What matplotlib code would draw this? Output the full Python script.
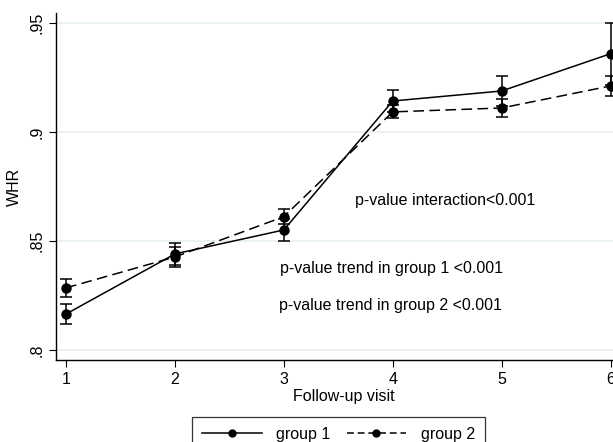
import numpy as np
import matplotlib
matplotlib.use('Agg')
import matplotlib.pyplot as plt
from matplotlib.ticker import FuncFormatter
from matplotlib.lines import Line2D

plt.rcParams['font.family'] = ['Liberation Sans', 'DejaVu Sans']

visits = [1, 2, 3, 4, 5, 6]
g1_mean = [0.8165, 0.8441, 0.8551, 0.9143, 0.9189, 0.9360]
g1_err = [0.0048, 0.0050, 0.0052, 0.0051, 0.0068, 0.0142]
g2_mean = [0.8285, 0.8427, 0.8612, 0.9093, 0.9111, 0.9212]
g2_err = [0.0040, 0.0045, 0.0035, 0.0030, 0.0041, 0.0048]
yticks = [0.80, 0.85, 0.90, 0.95]

FS = 11.5
W, H = 613, 442
fig = plt.figure(figsize=(W / 100, H / 100), dpi=100)
# axes placed in pixel terms; right side runs past the figure edge like the original
xmin, xmax = 0.908, 6.2
px_per_x = 108.9
left_px, bottom_px, top_px = 56, 360, 13
ax = fig.add_axes([left_px / W, 1 - bottom_px / H,
                   (xmax - xmin) * px_per_x / W, (bottom_px - top_px) / H])

ax.errorbar(visits, g1_mean, yerr=g1_err, color='black', lw=1.1, ls='-',
            marker='o', ms=6.5, capsize=4, capthick=1.1, elinewidth=1.1, zorder=3)
ax.errorbar(visits, g2_mean, yerr=g2_err, color='black', lw=1.1, ls=(0, (7, 3.5)),
            marker='o', ms=6.5, capsize=4, capthick=1.1, elinewidth=1.1, zorder=3)

ax.set_xlim(xmin, xmax)
ax.set_ylim(0.7954, 0.9547)
ax.set_xticks(visits)
ax.set_yticks(yticks)
ax.yaxis.set_major_formatter(FuncFormatter(lambda v, p: ('%g' % v).lstrip('0')))
for lab in ax.get_yticklabels():
    lab.set_rotation(90)
    lab.set_va('center')
ax.tick_params(labelsize=FS, direction='out', length=5, width=0.8)
ax.grid(axis='y', color='#e8f0f2', lw=1.3)
ax.set_axisbelow(True)
for s in ['top', 'right']:
    ax.spines[s].set_visible(False)
for s in ['left', 'bottom']:
    ax.spines[s].set_linewidth(1.0)

ax.set_xlabel('Follow-up visit', fontsize=FS, labelpad=1.5)
ax.set_ylabel('WHR', fontsize=FS, labelpad=5)

ax.text(4.48, 0.8686, 'p-value interaction<0.001', fontsize=FS, ha='center', va='center')
ax.text(3.99, 0.8376, 'p-value trend in group 1 <0.001', fontsize=FS, ha='center', va='center')
ax.text(3.98, 0.8202, 'p-value trend in group 2 <0.001', fontsize=FS, ha='center', va='center')

handles = [Line2D([], [], color='black', lw=1.1, ls='-', marker='o', ms=5),
           Line2D([], [], color='black', lw=1.1, ls=(0, (4.5, 2.5)), marker='o', ms=5)]
leg = fig.legend(handles, ['group 1', 'group 2'], loc='upper center',
                 bbox_to_anchor=(338.5 / W, 1 - 417 / H),
                 ncol=2, fontsize=FS, frameon=True, fancybox=False, edgecolor='black',
                 handlelength=3.75, handletextpad=0.9, columnspacing=1.0,
                 borderpad=0.6, borderaxespad=0)
leg.get_frame().set_linewidth(0.9)

fig.savefig('out.png', dpi=100)
